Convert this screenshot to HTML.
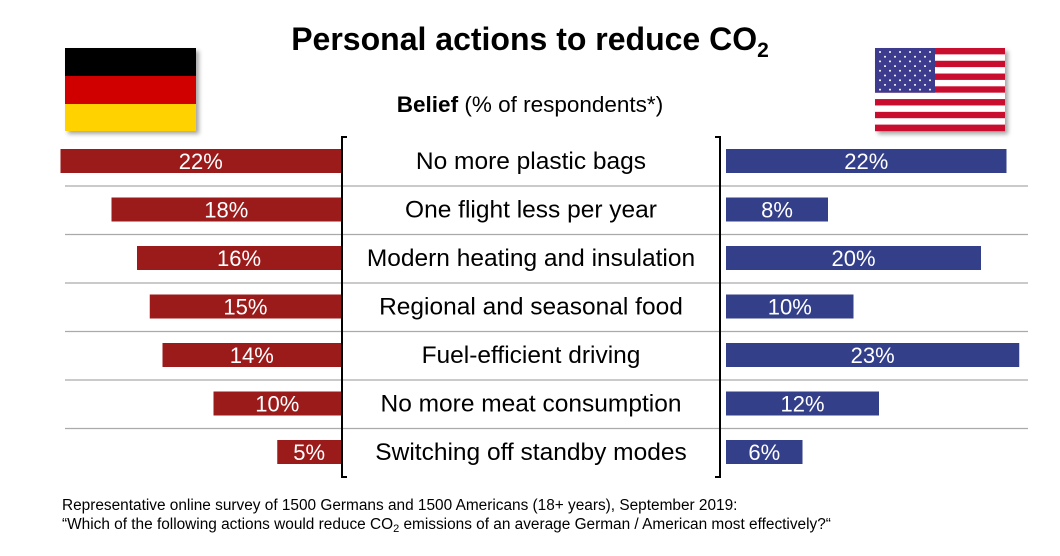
<!DOCTYPE html>
<html><head><meta charset="utf-8"><style>
body{margin:0;background:#fff;font-family:"Liberation Sans",Arial,sans-serif}
#c{position:relative;width:1060px;height:556px;overflow:hidden}
</style></head><body>
<div id="c">
<svg id="s" width="1060" height="556" xmlns="http://www.w3.org/2000/svg" font-family="Liberation Sans, Arial, sans-serif">
<defs><filter id="sh" x="-10%" y="-10%" width="130%" height="130%"><feDropShadow dx="3" dy="3" stdDeviation="2" flood-color="#000" flood-opacity="0.35"/></filter></defs>
<text x="530" y="50" text-anchor="middle" font-size="32" font-weight="bold">Personal actions to reduce CO<tspan font-size="21" dy="7">2</tspan></text>
<text x="530" y="112" text-anchor="middle" font-size="22.5"><tspan font-weight="bold">Belief</tspan> (% of respondents*)</text>
<g filter="url(#sh)">
<rect x="65" y="48" width="131" height="28" fill="#000"/><rect x="65" y="76" width="131" height="28" fill="#d00000"/><rect x="65" y="104" width="131" height="27" fill="#ffd200"/>
</g>
<g id="us" filter="url(#sh)"></g>
<g id="grid"></g><g id="bars"></g>
<g stroke="#000" stroke-width="2" fill="none">
<path d="M347 137 H342 V477 H347"/><path d="M715 137 H720 V477 H715"/>
</g>
<text x="62" y="510" font-size="15.4">Representative  online survey of 1500 Germans and 1500 Americans (18+ years), September  2019:</text>
<text x="62" y="529" font-size="15.4">“Which of the following  actions would reduce CO<tspan font-size="11" dy="3">2</tspan><tspan dy="-3"> emissions  of an average  German  / American most effectively?“</tspan></text>
</svg>
</div>
<script>
const categories=["No more plastic bags","One flight less per year","Modern heating and insulation","Regional and seasonal food","Fuel-efficient driving","No more meat consumption","Switching off standby modes"];
const germany=[22,18,16,15,14,10,5];
const usa=[22,8,20,10,23,12,6];
const NS="http://www.w3.org/2000/svg";
const scale=v=>v*12.75;
const rowY=i=>161+i*48.5;
function el(t,a,p){const e=document.createElementNS(NS,t);for(const k in a)e.setAttribute(k,a[k]);p.appendChild(e);return e;}
const us=document.getElementById('us');
for(let i=0;i<13;i++)el('rect',{x:875,y:48+i*83/13,width:130,height:83/13+0.2,fill:i%2?'#fff':'#c8102e'},us);
el('rect',{x:875,y:48,width:60,height:83*7/13,fill:'#3c3b8e'},us);
for(let r=0;r<9;r++)for(let c=0;c<(r%2?5:6);c++)el('circle',{cx:880+c*10+(r%2?5:0),cy:52+r*4.7,r:1,fill:'#fff'},us);
const grid=document.getElementById('grid'),bars=document.getElementById('bars');
categories.forEach((cat,i)=>{
 const y=rowY(i);
 if(i<categories.length-1){const l=el('line',{x1:65,x2:1028,y1:y+25,y2:y+25,stroke:'#aaa','stroke-width':1.2},grid);
 
 }
 const wg=scale(germany[i]);
 const bg=el('rect',{x:341-wg,y:y-12,width:wg,height:24,fill:'#9b1b1b'},bars);
 
 
 const tg=el('text',{x:341-wg/2,y:y+8,'text-anchor':'middle','font-size':22,fill:'#fff'},bars);tg.textContent=germany[i]+'%';
 
 
 const wu=scale(usa[i]);
 const bu=el('rect',{x:726,y:y-12,width:wu,height:24,fill:'#343f8a'},bars);
 
 
 const tu=el('text',{x:726+wu/2,y:y+8,'text-anchor':'middle','font-size':22,fill:'#fff'},bars);tu.textContent=usa[i]+'%';
 
 
 const tc=el('text',{x:531,y:y+8,'text-anchor':'middle','font-size':24.5},bars);tc.textContent=cat;
 
 
});
</script>
</body></html>
